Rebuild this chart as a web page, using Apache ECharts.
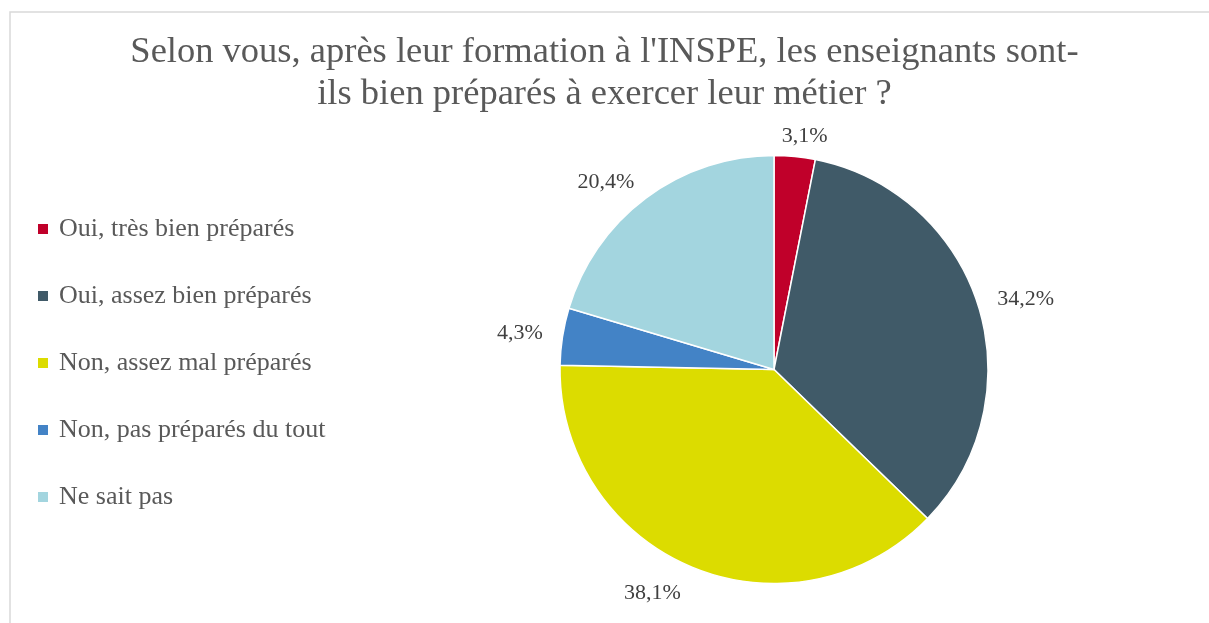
<!DOCTYPE html>
<html>
<head>
<meta charset="utf-8">
<script src="https://cdn.jsdelivr.net/npm/echarts@6/dist/echarts.min.js"></script>
<style>
html,body{margin:0;padding:0;background:#fff;}
#chart{width:1209px;height:623px;}
</style>
</head>
<body>
<div id="chart"></div>
<script>
const categories = [
  "Oui, très bien préparés",
  "Oui, assez bien préparés",
  "Non, assez mal préparés",
  "Non, pas préparés du tout",
  "Ne sait pas"
];
const values = [3.1, 34.2, 38.1, 4.3, 20.4];
const colors = ["#c0002a", "#405a68", "#dcdc00", "#4383c6", "#a3d5df"];
const titleText = "Selon vous, après leur formation à l'INSPE, les enseignants sont-\nils bien préparés à exercer leur métier ?";

// per-slice label tweaks (style only, Excel-like "outside end" placement)
const labelTweaks = [
  {label: {distanceToLabelLine: -15}},
  {},
  {labelLine: {length: 28}},
  {},
  {}
];

const FONT = "'Liberation Serif', 'DejaVu Serif', serif";
const chart = echarts.init(document.getElementById('chart'), null, {renderer: 'canvas'});
chart.setOption({
  animation: false,
  backgroundColor: '#ffffff',
  color: colors,
  graphic: [{
    type: 'rect',
    shape: {x: 10, y: 12, width: 1400, height: 800},
    style: {fill: 'none', stroke: '#d9d9d9', lineWidth: 1.5},
    silent: true,
    z: -10
  }],
  title: {
    text: titleText,
    left: 'center',
    top: 26,
    textStyle: {
      fontFamily: FONT,
      fontWeight: 'normal',
      fontSize: 36.5,
      lineHeight: 42,
      color: '#595959'
    }
  },
  legend: {
    orient: 'vertical',
    left: 33,
    top: 211,
    padding: 5,
    icon: 'rect',
    itemWidth: 10,
    itemHeight: 10,
    itemGap: 41,
    itemStyle: {borderWidth: 0},
    textStyle: {
      fontFamily: FONT,
      fontSize: 26,
      lineHeight: 26,
      padding: [0, 0, 0, 6],
      color: '#595959'
    },
    data: categories
  },
  series: [{
    type: 'pie',
    center: [774, 369.5],
    radius: 214,
    startAngle: 90,
    clockwise: true,
    avoidLabelOverlap: false,
    itemStyle: {borderColor: '#ffffff', borderWidth: 1.5},
    label: {
      show: true,
      position: 'outside',
      distanceToLabelLine: 0,
      formatter: p => String(p.value).replace('.', ',') + '%',
      fontFamily: FONT,
      fontSize: 22,
      color: '#404040'
    },
    labelLine: {show: false, length: 20, length2: 0},
    emphasis: {disabled: true},
    data: categories.map((c, i) => Object.assign({name: c, value: values[i]}, labelTweaks[i]))
  }]
});
</script>
</body>
</html>
